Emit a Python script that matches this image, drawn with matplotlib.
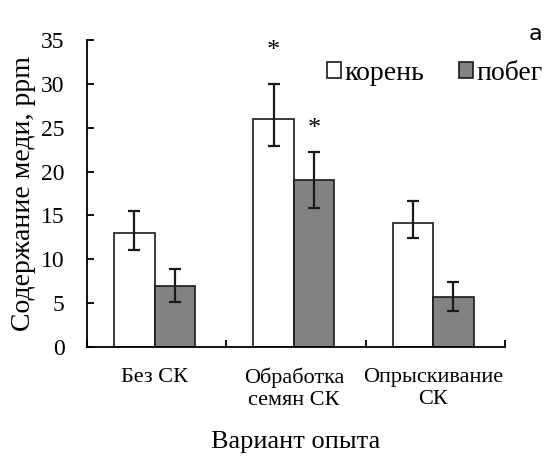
import numpy as np
import matplotlib.pyplot as plt
from matplotlib.ticker import FixedLocator

plt.rcParams['font.family'] = ['Liberation Serif', 'DejaVu Serif']

categories = ['Без СК', 'Обработка\nсемян СК', 'Опрыскивание\nСК']
root = [13.0, 26.0, 14.1]
root_lo = [1.9, 3.1, 1.7]
root_hi = [2.5, 4.0, 2.5]
shoot = [7.0, 19.0, 5.7]
shoot_lo = [1.9, 3.1, 1.6]
shoot_hi = [1.9, 3.2, 1.7]
stars_root = [False, True, False]
stars_shoot = [False, True, False]

fig = plt.figure(figsize=(5.47, 4.59), dpi=100)
ax = fig.add_axes([0.159, 0.244, 0.764, 0.669])

x = np.arange(len(categories)) + 0.5 - 0.015
w = 0.29
ek = dict(ecolor='#1a1a1a', elinewidth=1.6, capsize=4.5, capthick=1.6)
ax.bar(x - w / 2, root, w, yerr=[root_lo, root_hi], color='white',
       edgecolor='#1a1a1a', linewidth=1.2, error_kw=ek, label='корень')
ax.bar(x + w / 2, shoot, w, yerr=[shoot_lo, shoot_hi], color='#828282',
       edgecolor='#1a1a1a', linewidth=1.2, error_kw=ek, label='побег')

# significance marks
for i in range(len(categories)):
    if stars_root[i]:
        ax.text(x[i] - w / 2, root[i] + root_hi[i] + 3.7, '*', ha='center',
                va='center', fontsize=19)
    if stars_shoot[i]:
        ax.text(x[i] + w / 2, shoot[i] + shoot_hi[i] + 2.7, '*', ha='center',
                va='center', fontsize=19)

ax.set_xlim(0, len(categories))
ax.set_ylim(0, 35)
ax.set_yticks(np.arange(0, 36, 5))
ax.set_xticks(x)
ax.set_xticklabels(categories, fontsize=16, linespacing=1.2)
ax.xaxis.set_minor_locator(FixedLocator(np.arange(len(categories) + 1)))
ax.tick_params(axis='x', which='major', length=0, pad=15)
ax.tick_params(axis='x', which='minor', direction='in', length=5, width=1.3)
ax.tick_params(axis='y', direction='in', length=5, width=1.3, labelsize=17,
               pad=16)
for s in ['top', 'right']:
    ax.spines[s].set_visible(False)
for s in ['left', 'bottom']:
    ax.spines[s].set_linewidth(1.3)

ax.set_ylabel('Содержание меди, ppm', fontsize=20, labelpad=4)
ax.set_xlabel('Вариант опыта', fontsize=19, labelpad=15)

ax.legend(loc='center left', bbox_to_anchor=(0.54, 0.892), ncol=2,
          frameon=False, fontsize=20, borderpad=0, handlelength=0.52,
          handleheight=0.52, handletextpad=0.12, columnspacing=1.25)
fig.text(0.978, 0.912, 'а', family='DejaVu Sans', fontsize=16, ha='center')

fig.savefig('out.png', dpi=100)
